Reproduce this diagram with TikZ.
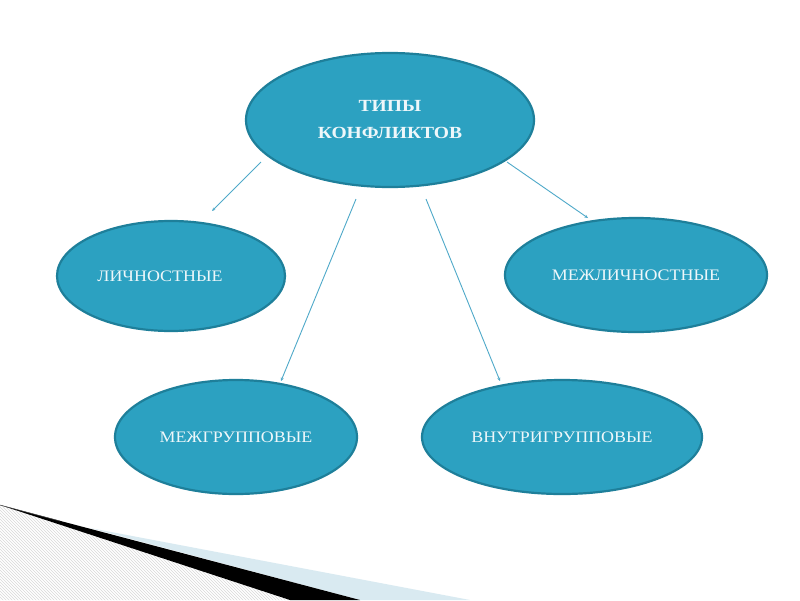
\documentclass[tikz,border=0pt]{standalone}
\usepackage{fontspec}
\setmainfont{Liberation Serif}
\newfontfamily\wideserif[FakeStretch=1.12]{Liberation Serif}
\newfontfamily\widebold[FakeStretch=1.15]{Liberation Serif Bold}
\usetikzlibrary{shapes.geometric,arrows.meta,patterns}
\definecolor{elfill}{HTML}{2CA1C1}
\definecolor{elrim}{HTML}{1E7F9A}
\definecolor{eltext}{HTML}{EEF7FA}
\definecolor{conn}{HTML}{4FA9C9}
\definecolor{paleblue}{HTML}{D9EAF1}
\tikzset{
  el/.style={ellipse, fill=elfill, draw=elrim, line width=2.2pt, inner sep=0pt,
    text=eltext, font=\wideserif\fontsize{16}{18}\selectfont, align=center},
  conline/.style={draw=conn, line width=0.9pt, -{Stealth[length=3.5pt,width=3pt]}}
}
\begin{document}
\begin{tikzpicture}[x=1pt,y=-1pt]
\useasboundingbox (0,0) rectangle (800,600);
\fill[white] (0,0) rectangle (800,600);
% decoration bottom-left
\fill[pattern=north west lines, pattern color=gray!30] (0,505) -- (290,600) -- (0,600) -- cycle;
\fill[paleblue] (90,528) -- (470,600) -- (360,600) -- cycle;
\fill[black] (0,505) -- (360,600) -- (290,600) -- cycle;
\draw[black!70, line width=0.5pt] (0,505) -- (60,521);
% nodes
\node[el, minimum width=288, minimum height=134, font=\widebold\fontsize{17}{27}\selectfont] (top) at (390,120) {ТИПЫ\\КОНФЛИКТОВ};
\node[el, minimum width=228, minimum height=110] (lich) at (171,276) {\hspace*{-22pt}ЛИЧНОСТНЫЕ};
\node[el, minimum width=262, minimum height=114] (mezhl) at (636,275) {МЕЖЛИЧНОСТНЫЕ};
\node[el, minimum width=242, minimum height=114] (mezhg) at (236,437) {МЕЖГРУППОВЫЕ};
\node[el, minimum width=280, minimum height=114] (vnutr) at (562,437) {ВНУТРИГРУППОВЫЕ};
% connector ends
\coordinate (s1) at (261,162); \coordinate (e1) at (212,211);
\coordinate (s2) at (356,199); \coordinate (e2) at (281,381);
\coordinate (s3) at (426,199); \coordinate (e3) at (500,381);
\coordinate (s4) at (507,162); \coordinate (e4) at (588,218);
\draw[conline] (s1) -- (e1);
\draw[conline] (s2) -- (e2);
\draw[conline] (s3) -- (e3);
\draw[conline] (s4) -- (e4);
\end{tikzpicture}
\end{document}
